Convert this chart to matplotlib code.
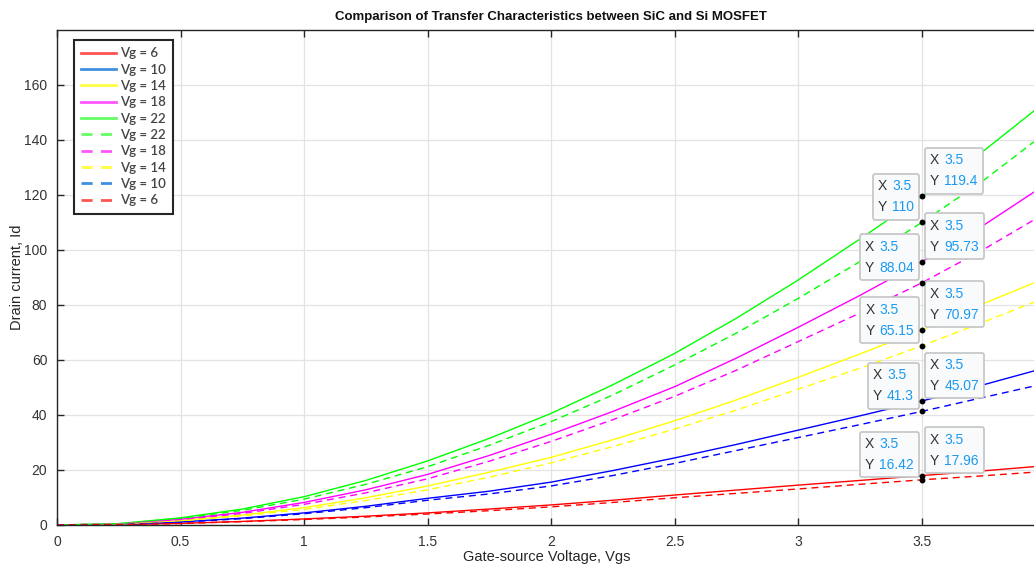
import numpy as np
import matplotlib
matplotlib.use("Agg")
import matplotlib.pyplot as plt
from matplotlib.lines import Line2D
from matplotlib.offsetbox import TextArea, HPacker, VPacker, AnnotationBbox

# gate-source voltage sample points
vgs = [0, 0.25, 0.5, 0.75, 1, 1.25, 1.5, 1.75, 2, 2.25, 2.5, 2.75, 3, 3.25, 3.5, 3.75, 3.953]

# SiC (solid)
sic_6 = [0, 0.1, 0.6, 1.3, 2.2, 3.2, 4.4, 5.8, 7.3, 9.0, 10.9, 12.7, 14.5, 16.2, 17.96, 19.7, 21.2]
sic_10 = [0, 0.2, 1.1, 2.5, 4.4, 6.8, 9.7, 12.3, 15.6, 19.8, 24.4, 29.3, 34.5, 39.7, 45.07, 51.0, 56.0]
sic_14 = [0, 0.3, 1.6, 3.6, 6.3, 9.9, 14.2, 19.2, 24.6, 31.0, 37.9, 45.5, 53.7, 62.2, 70.97, 80.5, 88.0]
sic_18 = [0, 0.4, 2.1, 4.6, 8.2, 12.8, 18.4, 25.3, 33.0, 41.3, 50.3, 60.7, 71.9, 83.5, 95.73, 109.0, 121.0]
sic_22 = [0, 0.5, 2.6, 5.8, 10.3, 16.2, 23.3, 31.5, 40.6, 51.0, 62.4, 75.2, 89.1, 104.0, 119.4, 136.0, 150.5]

# Si (dashed)
si_22 = [0, 0.45, 2.4, 5.3, 9.4, 14.8, 21.2, 29.0, 37.6, 47.3, 58.2, 69.8, 82.4, 95.8, 110.0, 125.3, 139.3]
si_18 = [0, 0.35, 1.9, 4.2, 7.5, 11.7, 16.8, 23.2, 30.4, 38.3, 46.8, 56.3, 66.7, 77.1, 88.04, 100.2, 110.9]
si_14 = [0, 0.28, 1.45, 3.3, 5.7, 8.9, 12.8, 17.4, 22.6, 28.5, 34.9, 41.8, 49.4, 57.0, 65.15, 73.8, 81.0]
si_10 = [0, 0.18, 1.0, 2.3, 4.1, 6.3, 9.0, 11.3, 14.2, 18.0, 22.4, 27.1, 31.8, 36.5, 41.3, 46.4, 50.5]
si_6 = [0, 0.1, 0.55, 1.2, 2.0, 2.9, 4.0, 5.2, 6.6, 8.2, 9.9, 11.5, 13.1, 14.8, 16.42, 17.9, 19.2]

tip_x = 3.5
x_ticks = [0, 0.5, 1, 1.5, 2, 2.5, 3, 3.5]
x_tick_labels = ["0", "0.5", "1", "1.5", "2", "2.5", "3", "3.5"]
y_ticks = [0, 20, 40, 60, 80, 100, 120, 140, 160]

solid = [("Vg = 6", sic_6, "#ff0000"), ("Vg = 10", sic_10, "#0000ff"),
         ("Vg = 14", sic_14, "#ffff00"), ("Vg = 18", sic_18, "#ff00ff"),
         ("Vg = 22", sic_22, "#00ff00")]
dashed = [("Vg = 22", si_22, "#00ff00"), ("Vg = 18", si_18, "#ff00ff"),
          ("Vg = 14", si_14, "#ffff00"), ("Vg = 10", si_10, "#0000ff"),
          ("Vg = 6", si_6, "#ff0000")]
legend_colors = {"#ff0000": "#ff5555", "#0000ff": "#3f8fe0", "#ffff00": "#ffff44",
                 "#ff00ff": "#ff55ff", "#00ff00": "#66ff66"}

plt.rcParams["font.family"] = ["Liberation Sans", "DejaVu Sans"]

W, H = 1034, 568
fig = plt.figure(figsize=(W / 100, H / 100), dpi=100)
ax = fig.add_axes([57 / W, 1 - 525 / H, 1 - 57 / W, (525 - 30) / H])

dash = (0, (5, 3.5))
for name, vals, c in solid:
    ax.plot(vgs, vals, color=c, lw=1.0)
for name, vals, c in dashed:
    ax.plot(vgs, vals, color=c, lw=1.0, linestyle=dash)

ax.set_xlim(0, 3.953)
ax.set_ylim(0, 179.9)
ax.set_xticks(x_ticks)
ax.set_xticklabels(x_tick_labels)
ax.set_yticks(y_ticks)
ax.grid(True, color="#e3e3e3", lw=0.9)
ax.set_axisbelow(True)
ax.tick_params(direction="in", length=5, width=1, colors="#262626",
               labelsize=10, labelcolor="#333333", top=True, right=False, pad=7)
for s in ["left", "top", "bottom"]:
    ax.spines[s].set_color("#262626")
    ax.spines[s].set_linewidth(1.0)
ax.spines["right"].set_visible(False)

fig.text(551 / W, 1 - 17 / H, "Comparison of Transfer Characteristics between SiC and Si MOSFET",
         ha="center", va="center", fontsize=9.5, fontweight="bold", color="#111111")
fig.text(547 / W, 1 - 557 / H, "Gate-source Voltage, Vgs", ha="center", va="center",
         fontsize=10.5, color="#262626")
fig.text(17 / W, 1 - 277 / H, "Drain current, Id", ha="center", va="center",
         rotation=90, fontsize=10.5, color="#262626")

# legend
handles = []
labels = []
for name, vals, c in solid:
    handles.append(Line2D([], [], color=legend_colors[c], lw=2))
    labels.append(name)
for name, vals, c in dashed:
    handles.append(Line2D([], [], color=legend_colors[c], lw=2, linestyle=(0, (4, 3))))
    labels.append(name)
leg = ax.legend(handles, labels, loc="upper left",
                bbox_to_anchor=(74 / W, 1 - 40 / H), bbox_transform=fig.transFigure,
                fancybox=False, framealpha=1, edgecolor="#262626",
                prop={"family": "Lato", "size": 9.5, "weight": "semibold"},
                handlelength=2.6, handletextpad=0.3, labelspacing=0.33,
                borderpad=0.55, borderaxespad=0)
leg.get_frame().set_linewidth(1.5)
for t in leg.get_texts():
    t.set_color("#444444")

# data tips at Vgs = 3.5
idx = vgs.index(tip_x)
PAD = 0.38
FS = 10


def data_tip(yv, right):
    tp = {"fontsize": FS, "color": "#333333"}
    vp = {"fontsize": FS, "color": "#1b9af0"}
    row1 = HPacker(children=[TextArea("X", textprops=tp), TextArea(f"{tip_x:g}", textprops=vp)],
                   align="baseline", pad=0, sep=3.5)
    row2 = HPacker(children=[TextArea("Y", textprops=tp), TextArea(f"{yv:g}", textprops=vp)],
                   align="baseline", pad=0, sep=3.5)
    box = VPacker(children=[row1, row2], align="left", pad=0, sep=5)
    off = PAD * FS + 2
    ab = AnnotationBbox(box, (tip_x, yv), xybox=(off if right else -off, off),
                        xycoords="data", boxcoords="offset points",
                        box_alignment=(0, 0) if right else (1, 0), pad=PAD,
                        bboxprops=dict(boxstyle=f"round,pad={PAD},rounding_size=0.15",
                                       fc="#f9fafc", ec="#c4c4c4", lw=1.2))
    ax.add_artist(ab)
    ax.plot([tip_x], [yv], "o", color="black", ms=3.2, zorder=5)


for name, vals, c in solid:
    data_tip(vals[idx], True)
for name, vals, c in dashed:
    data_tip(vals[idx], False)

fig.savefig("out.png", dpi=100)
